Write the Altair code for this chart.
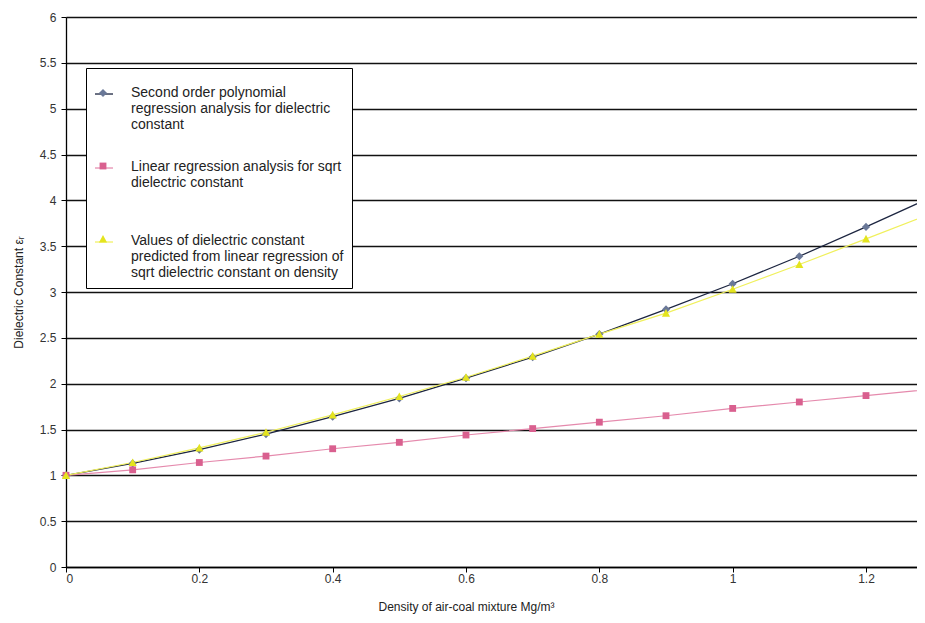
import json
import altair as alt
import pandas as pd

# ---- data ----
density = [0.0, 0.1, 0.2, 0.3, 0.4, 0.5, 0.6, 0.7, 0.8, 0.9, 1.0, 1.1, 1.2, 1.3]
poly_fit = [1.00, 1.13, 1.28, 1.45, 1.64, 1.84, 2.06, 2.29, 2.54, 2.81, 3.09, 3.39, 3.71, 4.04]
sqrt_fit = [1.00, 1.06, 1.14, 1.21, 1.29, 1.36, 1.44, 1.51, 1.58, 1.65, 1.73, 1.80, 1.87, 1.94]
predicted = [1.00, 1.14, 1.30, 1.47, 1.66, 1.86, 2.07, 2.30, 2.54, 2.77, 3.03, 3.30, 3.58, 3.86]

series_keys = ["poly", "sqrt", "pred"]
point_keys = ["poly_p", "sqrt_p", "pred_p"]
legend_keys = ["poly_l", "sqrt_l", "pred_l"]
legend_lines = [
    ["Second order polynomial", "regression analysis for dielectric", "constant"],
    ["Linear regression analysis for sqrt", "dielectric constant", " "],
    ["Values of dielectric constant", "predicted from linear regression of",
     "sqrt dielectric constant on density"],
]
x_ticks = [0, 0.2, 0.4, 0.6, 0.8, 1, 1.2]
y_ticks = [0, 0.5, 1, 1.5, 2, 2.5, 3, 3.5, 4, 4.5, 5, 5.5, 6]

line_colors = ["#1c2540", "#e58aad", "#f0f05c"]
marker_colors = ["#6a7898", "#d9608f", "#e4e41e"]
line_widths = [1.3, 1.2, 2.2]
marker_paths = [
    "M0,-0.45L0.45,0L0,0.45L-0.45,0Z",
    "M-0.38,-0.38L0.38,-0.38L0.38,0.38L-0.38,0.38Z",
    "M0,-0.45L0.45,0.4L-0.45,0.4Z",
]
# legend symbols sit on the first text line of each (multi-line) label
DY = 0.89
legend_marker_paths = [
    f"M0,{DY-0.45}L0.45,{DY}L0,{DY+0.45}L-0.45,{DY}Z",
    f"M-0.38,{DY-0.38}L0.38,{DY-0.38}L0.38,{DY+0.38}L-0.38,{DY+0.38}Z",
    f"M0,{DY-0.45}L0.45,{DY+0.4}L-0.45,{DY+0.4}Z",
]
legend_line_path = f"M-1,{DY}L1,{DY}"

rows = []
for key, pkey, lkey, vals in zip(series_keys, point_keys, legend_keys,
                                 [poly_fit, sqrt_fit, predicted]):
    for x, y in zip(density, vals):
        rows.append({"density": x, "value": y, "series": key,
                     "series_p": pkey, "series_l": lkey})
df = pd.DataFrame(rows)


def label_expr(keys, blank=False):
    def arr(lines):
        return json.dumps([" "] * len(lines) if blank else lines)
    expr = arr(legend_lines[-1])
    for k, lines in list(zip(keys, legend_lines))[:-1][::-1]:
        expr = f"datum.value == '{k}' ? {arr(lines)} : ({expr})"
    return expr


FONT = "Liberation Sans"
common_legend = dict(
    orient="none", legendX=20, legendY=51, title=None,
    labelFont=FONT, labelFontSize=14, labelColor="#222", labelLimit=400,
    labelBaseline="top", rowPadding=18, padding=8, symbolSize=324,
    labelOffset=17,
)

x_enc = alt.X(
    "density:Q",
    scale=alt.Scale(domain=[0, 1.2765], nice=False),
    axis=alt.Axis(values=x_ticks, format="~g", grid=False, labelPadding=1,
                  title="Density of air-coal mixture Mg/m³",
                  titleX=400, titleY=39, titleBaseline="middle"),
)
y_enc = alt.Y(
    "value:Q",
    scale=alt.Scale(domain=[0, 6], nice=False),
    axis=alt.Axis(values=y_ticks, format="~g", grid=True, labelPadding=5,
                  title="Dielectric Constant εᵣ",
                  titleX=-48, titleY=275, titleBaseline="middle"),
)

lines = alt.Chart(df).mark_line(clip=True).encode(
    x=x_enc,
    y=y_enc,
    stroke=alt.Stroke(
        "series:N",
        scale=alt.Scale(domain=series_keys, range=line_colors),
        legend=alt.Legend(labelExpr=label_expr(series_keys),
                          symbolType=legend_line_path,
                          symbolStrokeWidth=1.5, symbolFillColor="transparent",
                          strokeColor="black", fillColor="white", zindex=1,
                          **common_legend),
    ),
    strokeWidth=alt.StrokeWidth(
        "series:N", scale=alt.Scale(domain=series_keys, range=line_widths), legend=None
    ),
    order=alt.Order("density:Q"),
)

points = alt.Chart(df).transform_filter("datum.density <= 1.25").mark_point(
    filled=True, size=324, opacity=1, strokeWidth=0
).encode(
    x=x_enc,
    y=y_enc,
    fill=alt.Fill("series_p:N",
                  scale=alt.Scale(domain=point_keys, range=marker_colors),
                  legend=None),
    shape=alt.Shape("series_p:N",
                    scale=alt.Scale(domain=point_keys, range=marker_paths),
                    legend=None),
)

# legend-only layer for the marker symbols (its points fall outside the clipped plot)
lg = dict(labelExpr=label_expr(legend_keys, blank=True),
          symbolStrokeWidth=0, symbolOpacity=1, zindex=2, **common_legend)
legend_markers = alt.Chart(df).transform_filter("datum.density >= 1.3").mark_point(
    filled=True, size=324, opacity=1, strokeWidth=0, clip=True
).encode(
    x=x_enc,
    y=y_enc,
    fill=alt.Fill("series_l:N",
                  scale=alt.Scale(domain=legend_keys, range=marker_colors),
                  legend=alt.Legend(**lg)),
    shape=alt.Shape("series_l:N",
                    scale=alt.Scale(domain=legend_keys, range=legend_marker_paths),
                    legend=alt.Legend(**lg)),
)

chart = alt.layer(lines, points, legend_markers).resolve_scale(
    fill="independent", shape="independent"
).properties(
    width=851, height=550,
    autosize=alt.AutoSizeParams(type="none"),
    padding={"left": 58, "top": 9, "right": 0, "bottom": 48},
    background="white",
).configure_view(stroke=None).configure_axis(
    domainColor="black", domainWidth=1.3, tickColor="black", tickSize=5,
    gridColor="#111", gridWidth=1.3,
    labelFont=FONT, labelFontSize=12, labelColor="#333",
    titleFont=FONT, titleFontSize=12, titleColor="#222", titleFontWeight="normal",
)

chart.save("out.html", embed_options={"renderer": "svg", "actions": False})
